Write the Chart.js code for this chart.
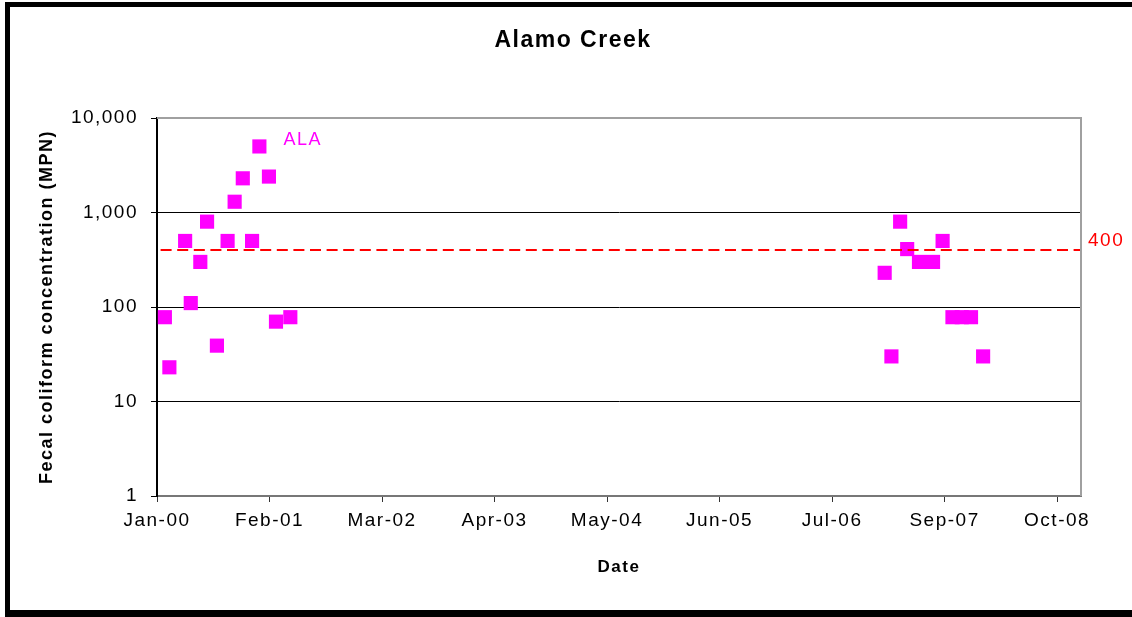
<!DOCTYPE html>
<html>
<head>
<meta charset="utf-8">
<title>Alamo Creek</title>
<script src="https://cdn.jsdelivr.net/npm/chart.js@4.4.1/dist/chart.umd.min.js"></script>
<style>
  html, body { margin: 0; padding: 0; background: #fff; }
  #wrap { position: relative; width: 1132px; height: 617px; }
</style>
</head>
<body>
<div id="wrap"><canvas id="chart"></canvas></div>
<script>
(function () {
  'use strict';

  // sample dates and fecal coliform results (MPN)
  var sampleDates = [
    '2000-01-29', '2000-02-14', '2000-04-10', '2000-04-30', '2000-06-03',
    '2000-06-27', '2000-08-01', '2000-09-08', '2000-10-03', '2000-11-01',
    '2000-12-04', '2000-12-30', '2001-02-02', '2001-02-27', '2001-04-19',
    '2007-01-31', '2007-02-24', '2007-03-27', '2007-04-21', '2007-06-02',
    '2007-07-22', '2007-08-25', '2007-09-29', '2007-11-01', '2007-12-04',
    '2008-01-16'
  ];
  var fecalValues = [
    78, 23, 500, 110, 300,
    800, 39, 500, 1300, 2300,
    500, 5000, 2400, 70, 78,
    230, 30, 800, 410, 300,
    300, 500, 78, 78, 78,
    30
  ];
  var seriesName = 'ALA';
  var threshold = 400;

  // x axis: days since Jan 1 2000, ticks every 400 days (as in the source sheet)
  var tickDays = [0, 400, 800, 1200, 1600, 2000, 2400, 2800, 3200];
  var tickLabels = ['Jan-00', 'Feb-01', 'Mar-02', 'Apr-03', 'May-04', 'Jun-05', 'Jul-06', 'Sep-07', 'Oct-08'];
  var axisEnd = 3285;
  var yTicks = [1, 10, 100, 1000, 10000];

  var FONT = "'Liberation Sans', Arial, sans-serif";

  function dayNumber(s) {
    var p = s.split('-');
    return (Date.UTC(+p[0], +p[1] - 1, +p[2]) - Date.UTC(2000, 0, 1)) / 86400000;
  }

  var points = sampleDates.map(function (d, i) {
    return { x: dayNumber(d), y: fecalValues[i] };
  });

  var framePlugin = {
    id: 'frame',
    beforeDraw: function (chart) {
      chart.ctx.letterSpacing = '1.5px';
    },
    afterDraw: function (chart) {
      var ctx = chart.ctx;
      var a = chart.chartArea;
      ctx.save();
      // plot area top / right edge
      ctx.strokeStyle = '#a0a0a0';
      ctx.lineWidth = 2;
      ctx.beginPath();
      ctx.moveTo(a.left, a.top);
      ctx.lineTo(a.right, a.top);
      ctx.lineTo(a.right, a.bottom);
      ctx.stroke();

      // series name next to the highest sample
      var maxIdx = fecalValues.indexOf(Math.max.apply(null, fecalValues));
      var p = chart.getDatasetMeta(0).data[maxIdx];
      ctx.letterSpacing = '1.5px';
      ctx.textAlign = 'left';
      ctx.textBaseline = 'middle';
      ctx.font = '18px ' + FONT;
      ctx.fillStyle = '#FF00FF';
      ctx.fillText(seriesName, p.x + 24, p.y - 6);

      // threshold label
      ctx.font = '19px ' + FONT;
      ctx.fillStyle = '#FF0000';
      ctx.fillText(String(threshold), a.right + 7, chart.scales.y.getPixelForValue(threshold) - 9.6);

      // outer frame
      ctx.fillStyle = '#000';
      ctx.fillRect(5, 2, chart.width - 5, 5);
      ctx.fillRect(5, 2, 5, chart.height - 2);
      ctx.fillRect(5, 610, chart.width - 5, chart.height - 610);
      ctx.restore();
    }
  };

  var ctx = document.getElementById('chart').getContext('2d');
  new Chart(ctx, {
    type: 'scatter',
    plugins: [framePlugin],
    data: {
      datasets: [{
        label: seriesName,
        data: points,
        order: 1,
        pointStyle: 'rect',
        pointRadius: 10,
        pointBorderWidth: 0,
        backgroundColor: '#FF00FF',
        borderColor: '#FF00FF'
      }, {
        label: 'Standard',
        data: [{ x: 0, y: threshold }, { x: axisEnd, y: threshold }],
        order: 0,
        showLine: true,
        pointRadius: 0,
        borderColor: '#FF0000',
        borderWidth: 2,
        borderDash: [11, 5.6],
        borderDashOffset: 13
      }]
    },
    options: {
      responsive: true,
      maintainAspectRatio: false,
      animation: false,
      layout: { padding: { left: 14, right: 0, top: 0, bottom: 0 } },
      plugins: {
        legend: { display: false },
        tooltip: { enabled: false },
        title: {
          display: true,
          text: 'Alamo Creek',
          color: '#000',
          font: { family: FONT, size: 23, weight: 'bold' },
          padding: { top: 26.7, bottom: 63.7 }
        }
      },
      scales: {
        x: {
          type: 'linear',
          min: 0,
          max: axisEnd,
          afterBuildTicks: function (axis) {
            axis.ticks = tickDays.map(function (v) { return { value: v }; });
          },
          afterFit: function (axis) { axis.height = 121; },
          grid: { drawOnChartArea: false, drawTicks: true, tickLength: 6, color: '#333' },
          border: { display: true, color: '#777', width: 2 },
          ticks: {
            color: '#000',
            padding: 7,
            maxRotation: 0,
            autoSkip: false,
            font: { family: FONT, size: 19 },
            callback: function (v) {
              var i = tickDays.indexOf(v);
              return i >= 0 ? tickLabels[i] : '';
            }
          },
          title: {
            display: true,
            text: 'Date',
            color: '#000',
            font: { family: FONT, size: 17, weight: 'bold' },
            padding: { top: 0, bottom: 39 }
          }
        },
        y: {
          type: 'logarithmic',
          min: 1,
          max: 10000,
          afterBuildTicks: function (axis) {
            axis.ticks = yTicks.map(function (v) { return { value: v, major: true }; });
          },
          afterFit: function (axis) { axis.width = 143; },
          grid: { color: '#000', lineWidth: 1, tickLength: 6 },
          border: { display: true, color: '#000', width: 2 },
          ticks: {
            color: '#000',
            padding: 13,
            font: { family: FONT, size: 19 },
            callback: function (v) { return Number(v).toLocaleString('en-US'); }
          },
          title: {
            display: true,
            text: 'Fecal coliform concentration (MPN)',
            color: '#000',
            font: { family: FONT, size: 18, weight: 'bold' },
            padding: { top: 21.9, bottom: 0 }
          }
        },
        yRight: {
          type: 'linear',
          position: 'right',
          display: true,
          afterFit: function (axis) { axis.width = 51; },
          grid: { display: false },
          border: { display: false },
          ticks: { display: false }
        }
      }
    }
  });
})();
</script>
</body>
</html>
